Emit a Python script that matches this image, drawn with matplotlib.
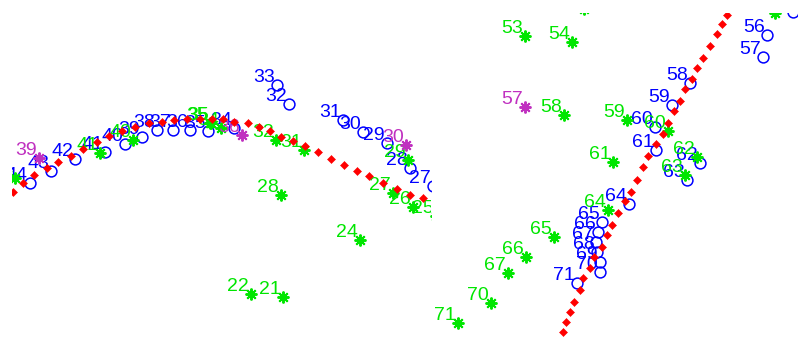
import matplotlib
matplotlib.use("Agg")
import matplotlib.pyplot as plt

W, H = 798, 341

# ---------------- left panel ----------------
red_left_x = [13, 23, 34, 47, 58, 71, 83, 97, 109, 122, 135, 149, 162, 174, 187, 200, 212,
              223, 234, 248, 259, 270, 281, 293, 305, 318, 331, 344, 357, 369, 383, 397, 410, 423]
red_left_y = [192, 183, 175, 168, 162, 156, 149, 142, 136, 131, 127, 123, 122, 120, 119, 119, 119,
              119, 122, 123, 127, 131, 137, 141, 146, 152, 159, 165, 171, 176, 183, 189, 195, 198]

blue_left_lab = ["44", "43", "42", "41", "40", "39", "38", "37", "36", "35", "34",
                 "33", "32", "31", "30", "29", "28", "27"]
blue_left_x = [30, 51, 75, 105, 125, 142, 157, 173, 190, 208, 234, 277, 289, 343, 363, 387, 410, 433]
blue_left_y = [183, 171, 159, 152, 144, 137, 130, 130, 130, 131, 128, 85, 104, 120, 132, 143, 168, 186]

green_left_lab = ["44", "41", "40", "35", "35", "34", "32", "31", "29", "27", "26", "25",
                  "28", "24", "22", "21"]
green_left_x = [15, 100, 133, 210, 211, 221, 276, 304, 408, 393, 413, 436, 281, 360, 251, 283]
green_left_y = [178, 153, 140, 123, 123, 128, 140, 150, 160, 193, 207, 216, 195, 240, 294, 297]

mag_left_lab = ["39", "36", "30"]
mag_left_x = [39, 242, 406]
mag_left_y = [158, 135, 145]

# ---------------- right panel ----------------
red_right_x = [563, 566, 570, 574, 580, 583, 590, 594, 602, 607, 612, 618, 625, 631, 637, 643,
               648, 656, 663, 668, 674, 680, 685, 692, 697, 703, 710, 717, 722, 727]
red_right_y = [332, 322, 312, 302, 290, 278, 268, 257, 247, 235, 225, 213, 201, 192, 180, 167,
               156, 144, 134, 123, 111, 101, 89, 79, 68, 58, 46, 34, 24, 15]

blue_right_lab = ["55", "56", "57", "58", "59", "60", "61", "62", "63", "64", "65",
                  "66", "67", "68", "69", "70", "71"]
blue_right_x = [793, 767, 763, 690, 672, 655, 656, 700, 687, 629, 602, 598, 596, 597, 600, 600, 577]
blue_right_y = [12, 35, 57, 83, 105, 127, 150, 163, 180, 204, 222, 232, 242, 252, 262, 272, 283]

green_right_lab = ["55", "56", "53", "54", "58", "59", "60", "61", "62", "63", "64", "65",
                   "66", "67", "70", "71"]
green_right_x = [584, 775, 525, 572, 564, 627, 668, 613, 697, 685, 608, 554, 526, 508, 491, 458]
green_right_y = [9, 13, 36, 42, 115, 120, 131, 162, 157, 175, 210, 237, 257, 273, 303, 323]

mag_right_lab = ["57"]
mag_right_x = [525]
mag_right_y = [107]

BLUE = "#0000ff"
GREEN = "#00e600"
MAG = "#c030c0"
RED = "#ff0000"
AST = (8, 2, 0)

fig = plt.figure(figsize=(W / 100, H / 100), dpi=100)
fig.patch.set_facecolor("white")

axL = fig.add_axes([12 / W, 0, (431 - 12) / W, 1])
axR = fig.add_axes([431 / W, 0, (W - 431) / W, (H - 13) / H])
axL.set_xlim(12, 431); axL.set_ylim(H, 0)
axR.set_xlim(431, W); axR.set_ylim(H, 13)
for ax in (axL, axR):
    ax.set_axis_off()


def labels(ax, xs, ys, labs, color):
    for x, y, t in zip(xs, ys, labs):
        ax.annotate(t, (x, y), xytext=(-2, 3), textcoords="offset pixels",
                    ha="right", va="baseline", color=color, fontsize=14,
                    family=["Liberation Sans", "DejaVu Sans"],
                    annotation_clip=False, clip_on=True)


def panel(ax, bx, by, bl, gx, gy, gl, mx, my, ml, rx, ry):
    ax.plot(bx, by, ls="none", marker="o", ms=7.8, mfc="none", mec=BLUE, mew=1.1, zorder=2)
    labels(ax, bx, by, bl, BLUE)
    ax.plot(gx, gy, ls="none", marker=AST, ms=8.5, mec=GREEN, mew=1.4, zorder=3)
    labels(ax, gx, gy, gl, GREEN)
    ax.plot(mx, my, ls="none", marker=AST, ms=8.5, mec=MAG, mew=1.4, zorder=4)
    labels(ax, mx, my, ml, MAG)
    ax.plot(rx, ry, ls="none", marker="D", ms=4.2, mfc=RED, mec=RED, mew=0.4, zorder=5)


panel(axL, blue_left_x, blue_left_y, blue_left_lab, green_left_x, green_left_y, green_left_lab,
      mag_left_x, mag_left_y, mag_left_lab, red_left_x, red_left_y)
panel(axR, blue_right_x, blue_right_y, blue_right_lab, green_right_x, green_right_y, green_right_lab,
      mag_right_x, mag_right_y, mag_right_lab, red_right_x, red_right_y)

fig.savefig("out.png", dpi=100, facecolor="white")
